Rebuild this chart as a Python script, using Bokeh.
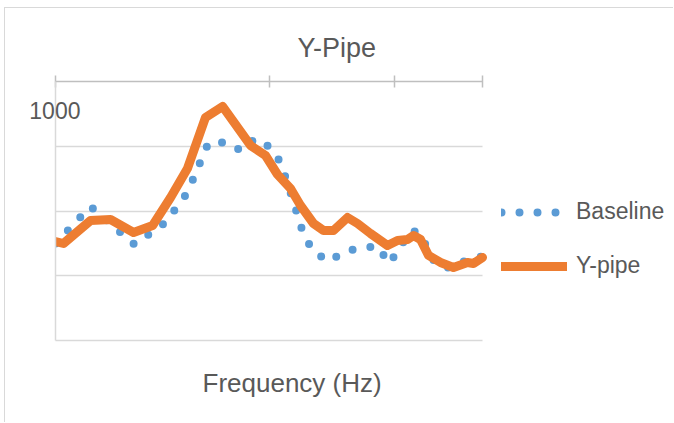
from bokeh.plotting import figure
from bokeh.models import Range1d, FixedTicker, Legend, LegendItem, Title, LogAxis
from bokeh.embed import file_html
from bokeh.resources import INLINE

# ---------------- data ----------------
chart_title = "Y-Pipe"
x_title = "Frequency (Hz)"
y_label_text = "1000"
series_names = ["Baseline", "Y-pipe"]

baseline_freq = [100, 146, 234, 327, 415, 521, 639, 735, 865, 1016, 1132, 1288,
                 1451, 1616, 1900, 2258, 2741, 3258, 3628, 4085, 4502, 5014,
                 5524, 6088, 7311, 8599, 10000]
baseline_level = [14.98, 20.70, 14.83, 18.22, 22.86, 30.58, 30.58, 29.34, 31.20,
                  29.81, 27.49, 21.93, 16.37, 13.75, 12.20, 13.75, 14.36, 14.52,
                  11.89, 14.05, 16.83, 16.83, 14.21, 11.58, 11.12, 12.66, 12.97]

ypipe_freq = [100, 109, 146, 181, 232, 285, 346, 415, 504, 606, 819, 963, 1096,
              1261, 1405, 1616, 1800, 2005, 2333, 2597, 2988, 3589, 3998, 4454,
              4753, 5125, 5587, 6357, 7311, 8505, 9073, 10000]
ypipe_level = [15.29, 14.98, 18.53, 18.69, 16.68, 17.76, 22.08, 26.56, 34.44,
               36.14, 30.12, 28.57, 25.64, 23.47, 20.85, 18.07, 16.99, 16.99,
               19.00, 18.07, 16.53, 14.67, 15.44, 15.60, 16.22, 15.60, 13.13,
               12.05, 11.27, 12.05, 11.89, 12.82]

x_ticks = [100, 1000, 3850, 10000]
y_grid = [0, 10, 20, 30]
y_label_at = 35.5
x_min, x_max = 100, 10000
y_min, y_max = 0, 40
x_view_max = 79290   # frame continues to the right to host the legend

# ---------------- styles ----------------
BLUE = "#5B9BD5"
ORANGE = "#ED7D31"
TEXT = "#595959"
GRID = "#D9D9D9"
AXIS = "#BFBFBF"
FONT = "Liberation Sans"

p = figure(width=669, height=415, x_axis_type="log", x_axis_location="above",
           x_range=Range1d(x_min, x_view_max), y_range=Range1d(y_min, y_max),
           output_backend="svg", toolbar_location=None,
           min_border_left=50, min_border_right=0,
           min_border_top=73, min_border_bottom=83)
p.margin = (7, 0, 0, 4)
p.styles = {"border-top": "1px solid #D9D9D9", "border-left": "1px solid #D9D9D9"}
p.outline_line_color = None
p.background_fill_color = "white"
p.border_fill_color = "white"

# title
p.title.text = chart_title
p.title.align = "left"
p.title.offset = 242
p.title.standoff = 25
p.title.text_font = FONT
p.title.text_font_size = "27px"
p.title.text_font_style = "normal"
p.title.text_color = TEXT

# x axis (top)
p.xaxis.ticker = FixedTicker(ticks=x_ticks)
p.xaxis.bounds = (x_min, x_max)
p.xaxis.major_label_text_font_size = "0px"
p.xaxis.major_tick_in = 6
p.xaxis.major_tick_out = 6
p.xaxis.minor_tick_line_color = None
p.xaxis.axis_line_color = AXIS
p.xaxis.axis_line_width = 1.5
p.xaxis.major_tick_line_color = AXIS
p.xaxis.major_tick_line_width = 1.5
p.xgrid.visible = False

# bottom edge of plot area
bottom_axis = LogAxis(ticker=FixedTicker(ticks=[]), bounds=(x_min, x_max),
                      axis_line_color=GRID, axis_line_width=1.5,
                      major_tick_line_color=None, minor_tick_line_color=None,
                      major_label_text_font_size="0px")
p.add_layout(bottom_axis, "below")

# x axis title
p.add_layout(Title(text=x_title, align="left", offset=147, standoff=51,
                   text_font=FONT, text_font_size="26px",
                   text_font_style="normal", text_color=TEXT), "below")

# y axis (left)
p.yaxis.ticker = FixedTicker(ticks=[y_label_at])
p.yaxis.major_label_overrides = {y_label_at: y_label_text}
p.yaxis.major_label_text_font = FONT
p.yaxis.major_label_text_font_size = "23px"
p.yaxis.major_label_text_color = TEXT
p.yaxis.major_label_standoff = -25
p.yaxis.major_tick_line_color = None
p.yaxis.major_tick_in = 0
p.yaxis.major_tick_out = 0
p.yaxis.minor_tick_line_color = None
p.yaxis.axis_line_color = GRID
p.yaxis.axis_line_width = 1.5
p.ygrid.ticker = FixedTicker(ticks=y_grid)
p.ygrid.cross_bounds = (x_min, x_max)
p.ygrid.grid_line_color = GRID
p.ygrid.grid_line_width = 1.5

r_base = p.line(baseline_freq, baseline_level, line_color=BLUE, line_width=8,
                line_dash="0 18", line_cap="round", line_join="round")
r_pipe = p.line(ypipe_freq, ypipe_level, line_color=ORANGE, line_width=9,
                line_cap="round", line_join="round")

legend = Legend(items=[LegendItem(label=series_names[0], renderers=[r_base]),
                       LegendItem(label=series_names[1], renderers=[r_pipe])],
                location=(446, 61), glyph_width=66, glyph_height=26,
                label_height=26, label_standoff=9, spacing=27, padding=0,
                margin=0, border_line_color=None, background_fill_alpha=0,
                label_text_font=FONT, label_text_font_size="23px",
                label_text_color=TEXT)
p.add_layout(legend)

open("out.html", "w").write(file_html(p, INLINE))
